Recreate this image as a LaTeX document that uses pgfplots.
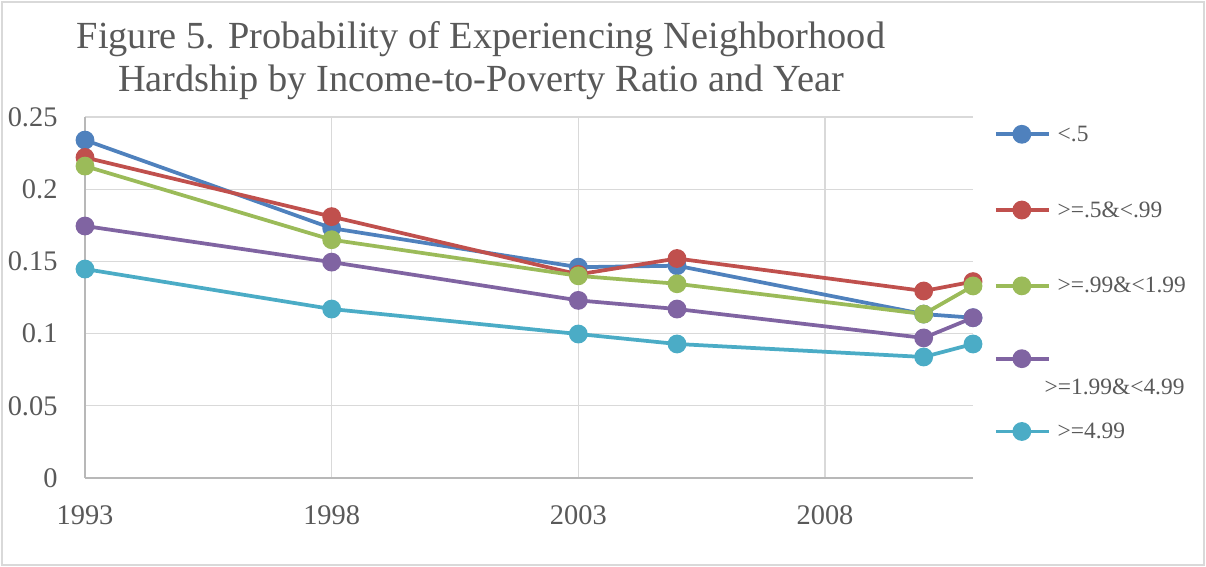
\documentclass[border=0pt]{standalone}
\usepackage{pgfplots}
\pgfplotsset{compat=1.18}
\usepackage{fontspec}
\setmainfont{Liberation Serif}
\definecolor{cBlue}{HTML}{4F81BD}
\definecolor{cRed}{HTML}{C0504D}
\definecolor{cGreen}{HTML}{9BBB59}
\definecolor{cPurple}{HTML}{8064A2}
\definecolor{cTeal}{HTML}{4BACC6}
\definecolor{txt}{HTML}{595959}
\definecolor{grd}{HTML}{D9D9D9}
\begin{document}
\begin{tikzpicture}[x=1bp,y=1bp]
\useasboundingbox (0,0) rectangle (1206,567);
\draw[grd, line width=1.5bp] (2,2) rectangle (1204,565);
\node[text=txt, align=center, font=\fontsize{38.5}{43}\selectfont] at (481,506)
  {Figure 5. Probability of Experiencing Neighborhood\\Hardship by Income-to-Poverty Ratio and Year};
\begin{axis}[
  at={(85bp,89bp)}, anchor=south west,
  scale only axis, width=888bp, height=361bp,
  xmin=1993, xmax=2011, ymin=0, ymax=0.25,
  axis x line=bottom, axis y line=left,
  axis line style={-, color=grd!85!black, line width=1.2bp},
  xtick={1993,1998,2003,2008},
  ytick={0,0.05,0.1,0.15,0.2,0.25},
  major tick length=0pt,
  grid=major, major grid style={grd, line width=1.2bp},
  ticklabel style={text=txt, font=\fontsize{28.5}{30}\selectfont},
  /pgf/number format/assume math mode=true,
  /pgf/number format/1000 sep={},
  yticklabel style={/pgf/number format/fixed, xshift=-24bp},
  xticklabel style={yshift=-24bp},
  clip=false,
  every axis plot/.append style={line width=3.75bp, mark=*, mark size=7.5bp},
  legend style={draw=none, fill=none, text=txt,
    font=\fontsize{23.5}{27}\selectfont,
    at={(1.02,0.987)}, anchor=north west, row sep=54.8bp,
    /tikz/every even column/.append style={column sep=0bp}},
  legend cell align=left,
  legend image code/.code={\draw[mark repeat=2, mark phase=2, #1] plot coordinates {(0bp,0bp) (26bp,0bp) (53bp,0bp)};},
]
\addplot[color=cBlue, mark options={fill=cBlue}] coordinates {
(1993,0.234) (1998,0.173) (2003,0.146) (2005,0.147) (2010,0.1135) (2011,0.111)};
\addlegendentry{\hspace{5bp}<.5}
\addplot[color=cRed, mark options={fill=cRed}] coordinates {
(1993,0.222) (1998,0.181) (2003,0.141) (2005,0.152) (2010,0.1295) (2011,0.136)};
\addlegendentry{\hspace{5bp}>=.5\&<.99}
\addplot[color=cGreen, mark options={fill=cGreen}] coordinates {
(1993,0.216) (1998,0.165) (2003,0.140) (2005,0.1345) (2010,0.1135) (2011,0.133)};
\addlegendentry{\hspace{5bp}>=.99\&<1.99}
\addplot[color=cPurple, mark options={fill=cPurple}] coordinates {
(1993,0.1745) (1998,0.1495) (2003,0.123) (2005,0.117) (2010,0.097) (2011,0.111)};
\addlegendentry{\smash{\raisebox{-37bp}{\hspace{-8bp}>=1.99\&<4.99}}}
\addplot[color=cTeal, mark options={fill=cTeal}] coordinates {
(1993,0.1447) (1998,0.117) (2003,0.0997) (2005,0.0928) (2010,0.0838) (2011,0.0928)};
\addlegendentry{\hspace{5bp}>=4.99}
\end{axis}
\end{tikzpicture}
\end{document}
